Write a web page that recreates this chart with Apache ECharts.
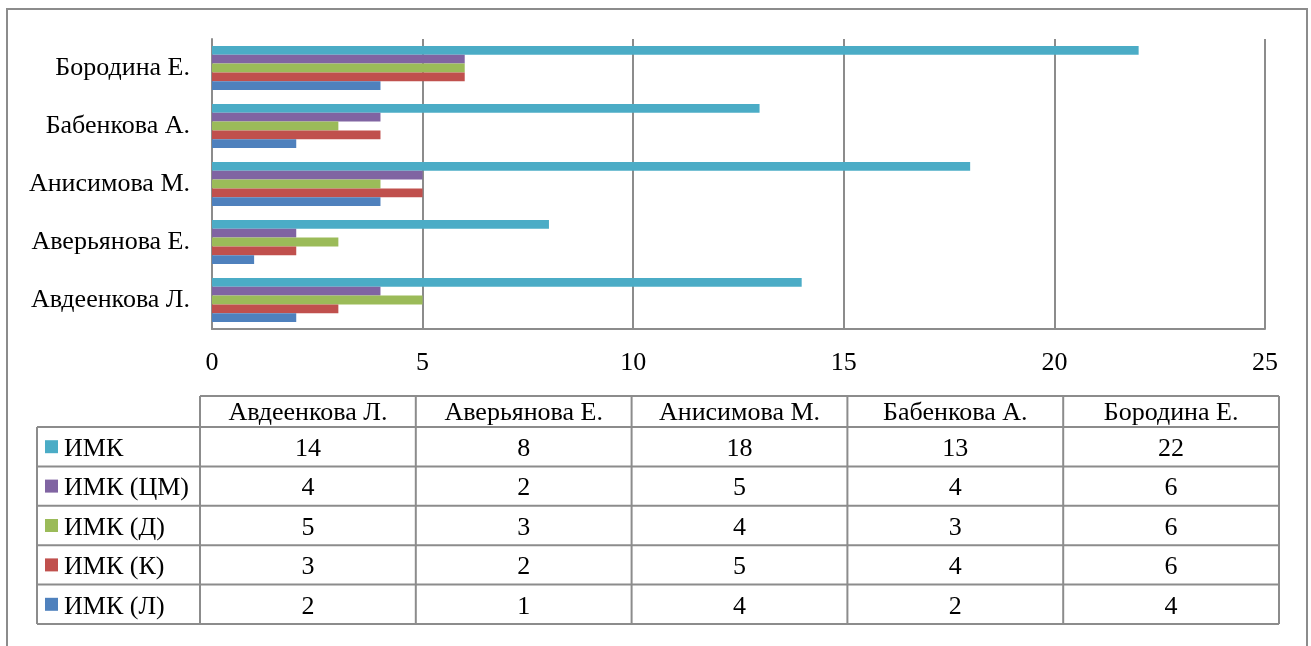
<!DOCTYPE html>
<html>
<head>
<meta charset="utf-8">
<script src="https://cdn.jsdelivr.net/npm/echarts@6/dist/echarts.min.js"></script>
<style>
  html, body { margin: 0; padding: 0; background: #fff; }
  #chart { width: 1311px; height: 646px; }
</style>
</head>
<body>
<div id="chart"></div>
<script>
// Students (category axis, bottom to top) and scores per indicator
const students = ['Авдеенкова Л.', 'Аверьянова Е.', 'Анисимова М.', 'Бабенкова А.', 'Бородина Е.'];
const seriesNames = ['ИМК', 'ИМК (ЦМ)', 'ИМК (Д)', 'ИМК (К)', 'ИМК (Л)'];
const imk   = [14, 8, 18, 13, 22];
const imkCM = [4, 2, 5, 4, 6];
const imkD  = [5, 3, 4, 3, 6];
const imkK  = [3, 2, 5, 4, 6];
const imkL  = [2, 1, 4, 2, 4];
const seriesColors = ['#4BACC6', '#8064A2', '#9BBB59', '#C0504D', '#4F81BD'];

const rows = [imk, imkCM, imkD, imkK, imkL];
const FONT = 'Liberation Serif';
const FONT_SIZE = 26;
const LINE = '#8c8c8c';
const cellFont = FONT_SIZE + 'px "' + FONT + '"';

// Data table geometry
const tbl = {
  legendLeft: 37,
  colLeft: 200,
  colWidth: 215.8,
  headTop: 396,
  headBottom: 427,
  rowHeight: 39.4
};

function buildTable() {
  const els = [];
  const n = students.length;
  const right = tbl.colLeft + tbl.colWidth * n;
  const bottom = tbl.headBottom + tbl.rowHeight * rows.length;
  const line = (x1, y1, x2, y2) => ({
    type: 'line', silent: true,
    shape: { x1, y1, x2, y2 },
    style: { stroke: LINE, lineWidth: 2 }
  });
  // header row
  els.push(line(tbl.colLeft, tbl.headTop, right, tbl.headTop));
  // row separators
  for (let r = 0; r <= rows.length; r++) {
    const y = tbl.headBottom + tbl.rowHeight * r;
    els.push(line(tbl.legendLeft, y, right, y));
  }
  // vertical lines
  els.push(line(tbl.legendLeft, tbl.headBottom, tbl.legendLeft, bottom));
  for (let c = 0; c <= n; c++) {
    const x = tbl.colLeft + tbl.colWidth * c;
    els.push(line(x, tbl.headTop, x, bottom));
  }
  // header texts
  students.forEach((s, c) => {
    els.push({
      type: 'text', silent: true,
      x: tbl.colLeft + tbl.colWidth * (c + 0.5),
      y: (tbl.headTop + tbl.headBottom) / 2 + 1.5,
      style: { text: s, font: cellFont, fill: '#000', align: 'center', verticalAlign: 'middle' }
    });
  });
  // body rows: legend key, series name, values
  rows.forEach((vals, r) => {
    const cy = tbl.headBottom + tbl.rowHeight * (r + 0.5);
    els.push({
      type: 'rect', silent: true,
      shape: { x: 45, y: cy - 6.5, width: 13, height: 13 },
      style: { fill: seriesColors[r] }
    });
    els.push({
      type: 'text', silent: true,
      x: 64, y: cy + 2.5,
      style: { text: seriesNames[r], font: cellFont, fill: '#000', align: 'left', verticalAlign: 'middle' }
    });
    vals.forEach((v, c) => {
      els.push({
        type: 'text', silent: true,
        x: tbl.colLeft + tbl.colWidth * (c + 0.5),
        y: cy + 2.5,
        style: { text: String(v), font: cellFont, fill: '#000', align: 'center', verticalAlign: 'middle' }
      });
    });
  });
  // outer frame of the chart area
  els.push({
    type: 'rect', silent: true,
    shape: { x: 7, y: 9, width: 1300, height: 660 },
    style: { fill: 'none', stroke: LINE, lineWidth: 2 }
  });
  return els;
}

const chart = echarts.init(document.getElementById('chart'), null, { renderer: 'canvas' });
chart.setOption({
  animation: false,
  backgroundColor: '#fff',
  grid: { left: 212, right: 46, top: 39, bottom: 317, containLabel: false },
  xAxis: {
    type: 'value',
    min: 0, max: 25, interval: 5,
    axisLine: { show: true, lineStyle: { color: LINE, width: 2 } },
    axisTick: { show: false },
    splitLine: { show: true, lineStyle: { color: LINE, width: 2 } },
    axisLabel: { fontFamily: FONT, fontSize: FONT_SIZE, color: '#000', margin: 21 }
  },
  yAxis: {
    type: 'category',
    data: students,
    axisLine: { show: true, lineStyle: { color: LINE, width: 2 } },
    axisTick: { show: false },
    axisLabel: { fontFamily: FONT, fontSize: FONT_SIZE, color: '#000', margin: 22 }
  },
  series: seriesNames.map((name, i) => ({
    name,
    type: 'bar',
    data: rows[i],
    itemStyle: { color: seriesColors[i] },
    barGap: 0,
    barCategoryGap: '24%'
  })),
  graphic: buildTable()
});
</script>
</body>
</html>
